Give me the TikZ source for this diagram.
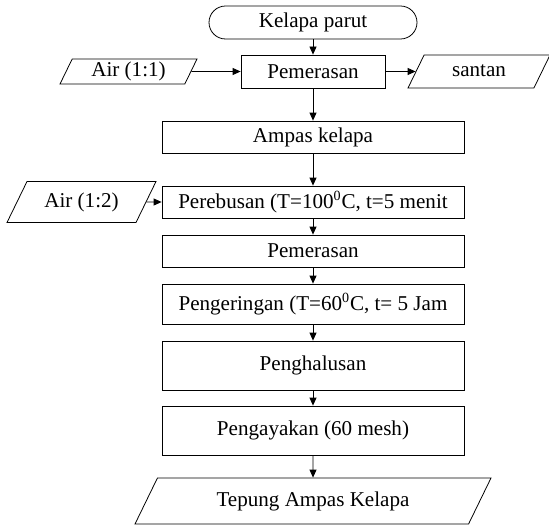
\documentclass[tikz,border=0pt]{standalone}
\usepackage{fontspec}
\setmainfont{Liberation Serif}
\usetikzlibrary{arrows.meta,shapes.geometric}

\begin{document}
\begin{tikzpicture}[
    >={Triangle[length=1.6mm,width=1.4mm]},
    line width=0.45pt,
    terminal/.style={
        rectangle,
        rounded corners=3.3mm,
        draw=black,
        minimum width=4.16cm,
        minimum height=0.66cm,
        inner sep=0pt,
        font=\fontsize{12}{14}\selectfont
    },
    proc/.style={
        rectangle,
        draw=black,
        minimum width=6.04cm,
        minimum height=#1,
        inner sep=0pt,
        font=\fontsize{12}{14}\selectfont
    },
    proc/.default=0.64cm,
    io/.style={
        trapezium,
        trapezium left angle=64,
        trapezium right angle=116,
        trapezium stretches body,
        draw=black,
        text height=3.2mm,
        text depth=1mm,
        inner xsep=0pt,
        inner ysep=#1,
        font=\fontsize{12}{14}\selectfont
    },
    io/.default=1.2mm
]
\useasboundingbox (0,0) rectangle (10.98,10.5);

% Main line
\node[terminal] (kelapa) at (6.26,10.05) {Kelapa parut};
\node[proc=0.66cm,minimum width=2.88cm] (peras1) at (6.26,9.07) {Pemerasan};
\node[proc] (ampas) at (6.26,7.76) {Ampas kelapa};
\node[proc] (rebus) at (6.26,6.46) {Perebusan (T=100\textsuperscript{0}C, t=5 menit};
\node[proc] (peras2) at (6.26,5.48) {Pemerasan};
\node[proc=0.8cm] (kering) at (6.26,4.42) {Pengeringan (T=60\textsuperscript{0}C, t= 5 Jam};
\node[proc=0.98cm] (halus) at (6.26,3.19) {Penghalusan};
\node[proc=0.98cm] (ayak) at (6.26,1.89) {Pengayakan (60 mesh)};
\node[io=2.5mm,minimum width=7.12cm] (tepung) at (6.26,0.48) {Tepung Ampas Kelapa};

% Inputs and outputs
\node[io=0.4mm,minimum width=2.74cm] (air1) at (2.57,9.07) {Air (1:1)};
\node[io,minimum width=2.84cm] (santan) at (9.58,9.07) {santan};
\node[io=2mm,minimum width=2.98cm] (air2) at (1.63,6.46) {Air (1:2)};

% Arrows
\draw[->] (kelapa) -- (peras1);
\draw[->] (air1) -- (peras1);
\draw[->] (peras1) -- (santan);
\draw[->] (peras1) -- (ampas);
\draw[->] (ampas) -- (rebus);
\draw[->] (air2) -- (rebus);
\draw[->] (rebus) -- (peras2);
\draw[->] (peras2) -- (kering);
\draw[->] (kering) -- (halus);
\draw[->] (halus) -- (ayak);
\draw[->] (ayak) -- (tepung);

\end{tikzpicture}
\end{document}
